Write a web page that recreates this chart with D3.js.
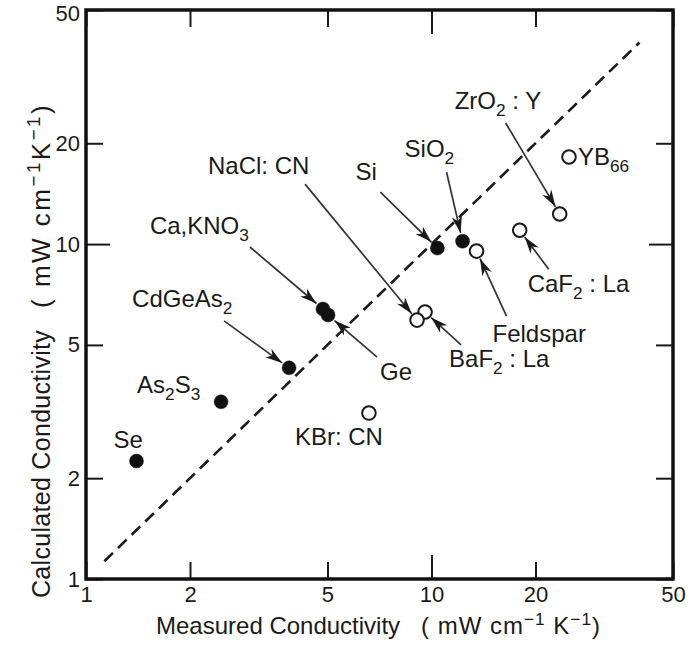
<!DOCTYPE html>
<html>
<head>
<meta charset="utf-8">
<script src="https://cdn.jsdelivr.net/npm/d3@7"></script>
<style>
  body { margin: 0; background: #fff; }
  text { font-family: "Liberation Sans", Arial, Helvetica, sans-serif; fill: #1a1a1a; }
</style>
</head>
<body>
<div id="chart"></div>
<script>

// materials ("_" = subscript), measured and calculated conductivity in mW cm-1 K-1
var materials  = ["Se", "As_2S_3", "CdGeAs_2", "Ca,KNO_3", "Ge", "Si", "SiO_2", "Feldspar",
                  "CaF_2 : La", "ZrO_2 : Y", "YB_66", "BaF_2 : La", "NaCl: CN", "KBr: CN"]
var measured   = [1.40, 2.46, 3.87, 4.85, 5.02, 10.4, 12.3, 13.5, 18.0, 23.5, 25.0, 9.58, 9.08, 6.59]
var calculated = [2.25, 3.38, 4.27, 6.40, 6.14, 9.73, 10.2, 9.53, 11.0, 12.3, 18.2, 6.27, 5.93, 3.13]
var filled     = [true, true, true, true, true, true, true, false, false, false, false, false, false, false]

var xTicks = [1, 2, 5, 10, 20, 50]
var yTicks = [1, 2, 5, 10, 20, 50]
var diagonal = [1.13, 40]   // calculated = measured

// where each label and arrow tail sit, in px relative to its point
var labelOffset = [[-23, -13], [-84, -9], [-157, -61], [-173, -75], [52, 65], [-82, -68], [-58, -84],
                   [16, 91], [8, 62], [-105, -105], [9, 8], [24, 55], [-209, -146], [-74, 32]]
var arrowFrom   = [null, null, [-65, -47], [-73, -62], [49, 42], [-57, -56], [-16, -69],
                   [30, 65], [29, 39], [-54, -91], null, [36, 33], [-112, -136], null]

var width = 690, height = 646
var box = {left: 86, right: 673, top: 10, bottom: 579}

var svg = d3.select("#chart").append("svg")
    .attr("width", width)
    .attr("height", height)

var x = d3.scaleLog().domain([1, 50]).range([box.left, box.right])
var y = d3.scaleLog().domain([1, 50]).range([box.bottom, box.top])

// writes "ab_2" / "cm^−1" as tspans with sub / superscripts
function richText(sel, str, size) {
  var shift = 0
  str.split(/([_^]−?\d+)/).forEach(function(p) {
    if (!p) return
    var t = sel.append("tspan")
    if (p[0] == "_" || p[0] == "^") {
      var d = p[0] == "_" ? size * 0.28 : -size * 0.38
      t.attr("dy", d).attr("font-size", size * 0.72).text(p.slice(1))
      shift += d
    } else {
      t.attr("dy", -shift).text(p)
      shift = 0
    }
  })
}

svg.append("defs").append("marker")
    .attr("id", "head")
    .attr("viewBox", "-18 -6 19 12")
    .attr("refX", 0).attr("refY", 0)
    .attr("markerWidth", 19).attr("markerHeight", 12)
    .attr("markerUnits", "userSpaceOnUse")
    .attr("orient", "auto")
  .append("path")
    .attr("d", "M0,0 L-17,-5.2 L-12,0 L-17,5.2 Z")
    .attr("fill", "#1a1a1a")

// ticks, all pointing inward; the decade tick is longer
function tickLen(d) { return d == 10 ? -24 : -17 }

var bottomAxis = svg.append("g")
    .attr("transform", "translate(0," + box.bottom + ")")
    .call(d3.axisBottom(x).tickValues(xTicks).tickSize(-17).tickFormat(d3.format("d")))
bottomAxis.selectAll(".tick line").attr("y2", tickLen)
bottomAxis.selectAll(".tick text").attr("y", 7).attr("font-size", 22)

var topAxis = svg.append("g")
    .attr("transform", "translate(0," + box.top + ")")
    .call(d3.axisTop(x).tickValues(xTicks).tickSize(-17).tickFormat(""))
topAxis.selectAll(".tick line").attr("y2", function(d) { return -tickLen(d) })

var leftAxis = svg.append("g")
    .attr("transform", "translate(" + box.left + ",0)")
    .call(d3.axisLeft(y).tickValues(yTicks).tickSize(-17).tickPadding(6).tickFormat(d3.format("d")))
leftAxis.selectAll(".tick line").attr("x2", function(d) { return -tickLen(d) })
leftAxis.selectAll(".tick text").attr("font-size", 22)
    .attr("y", function(d) { return d == 50 ? 3 : 0 })

var rightAxis = svg.append("g")
    .attr("transform", "translate(" + box.right + ",0)")
    .call(d3.axisRight(y).tickValues(yTicks).tickSize(-17).tickFormat(""))
rightAxis.selectAll(".tick line").attr("x2", tickLen)

svg.selectAll(".domain").remove()
svg.selectAll(".tick line").attr("stroke", "#1a1a1a").attr("stroke-width", 2)
svg.selectAll(".tick text").attr("fill", "#1a1a1a").style("font-family", "'Liberation Sans', Arial, sans-serif")

svg.append("rect")
    .attr("x", box.left).attr("y", box.top)
    .attr("width", box.right - box.left).attr("height", box.bottom - box.top)
    .attr("fill", "none").attr("stroke", "#111").attr("stroke-width", 3.5)

// y = x
svg.append("line")
    .attr("x1", x(diagonal[0])).attr("y1", y(diagonal[0]))
    .attr("x2", x(diagonal[1])).attr("y2", y(diagonal[1]))
    .attr("stroke", "#1a1a1a").attr("stroke-width", 2.6)
    .attr("stroke-dasharray", "12,7")

var data = materials.map(function(m, i) {
  return {name: m, mx: measured[i], cy: calculated[i], filled: filled[i],
          label: labelOffset[i], from: arrowFrom[i]}
})

function radius(d) { return d.filled ? 7 : 6.8 }

// arrows, stopping at the edge of the marker
svg.selectAll(".arrow")
    .data(data.filter(function(d) { return d.from }))
  .enter().append("line")
    .attr("class", "arrow")
    .attr("x1", function(d) { return x(d.mx) + d.from[0] })
    .attr("y1", function(d) { return y(d.cy) + d.from[1] })
    .attr("x2", function(d) {
      var l = Math.hypot(d.from[0], d.from[1])
      return x(d.mx) + d.from[0] * (radius(d) + 1.5) / l
    })
    .attr("y2", function(d) {
      var l = Math.hypot(d.from[0], d.from[1])
      return y(d.cy) + d.from[1] * (radius(d) + 1.5) / l
    })
    .attr("stroke", "#333").attr("stroke-width", 1.7)
    .attr("marker-end", "url(#head)")

svg.selectAll(".dot")
    .data(data)
  .enter().append("circle")
    .attr("class", "dot")
    .attr("cx", function(d) { return x(d.mx) })
    .attr("cy", function(d) { return y(d.cy) })
    .attr("r", radius)
    .attr("fill", function(d) { return d.filled ? "#111" : "#fff" })
    .attr("stroke", "#1a1a1a")
    .attr("stroke-width", function(d) { return d.filled ? 0.5 : 2 })

data.forEach(function(d) {
  var t = svg.append("text")
      .attr("x", x(d.mx) + d.label[0])
      .attr("y", y(d.cy) + d.label[1])
      .attr("font-size", 24)
  richText(t, d.name, 24)
})

// axis titles
var xt = svg.append("text").attr("x", 156).attr("y", 634).attr("font-size", 24)
richText(xt, "Measured Conductivity", 24)
var xu = svg.append("text").attr("x", 421).attr("y", 634).attr("font-size", 24)
    .attr("letter-spacing", 1)
richText(xu, "( mW cm^−1 K^−1)", 24)

var yt = svg.append("text").attr("transform", "translate(50,598) rotate(-90)").attr("font-size", 25)
    .attr("letter-spacing", 0.3)
richText(yt, "Calculated Conductivity", 25)
var yu = svg.append("text").attr("transform", "translate(50,308) rotate(-90)").attr("font-size", 26)
    .attr("letter-spacing", 2.5)
richText(yu, "(  mW cm^−1K^−1)", 26)

</script>
</body>
</html>
